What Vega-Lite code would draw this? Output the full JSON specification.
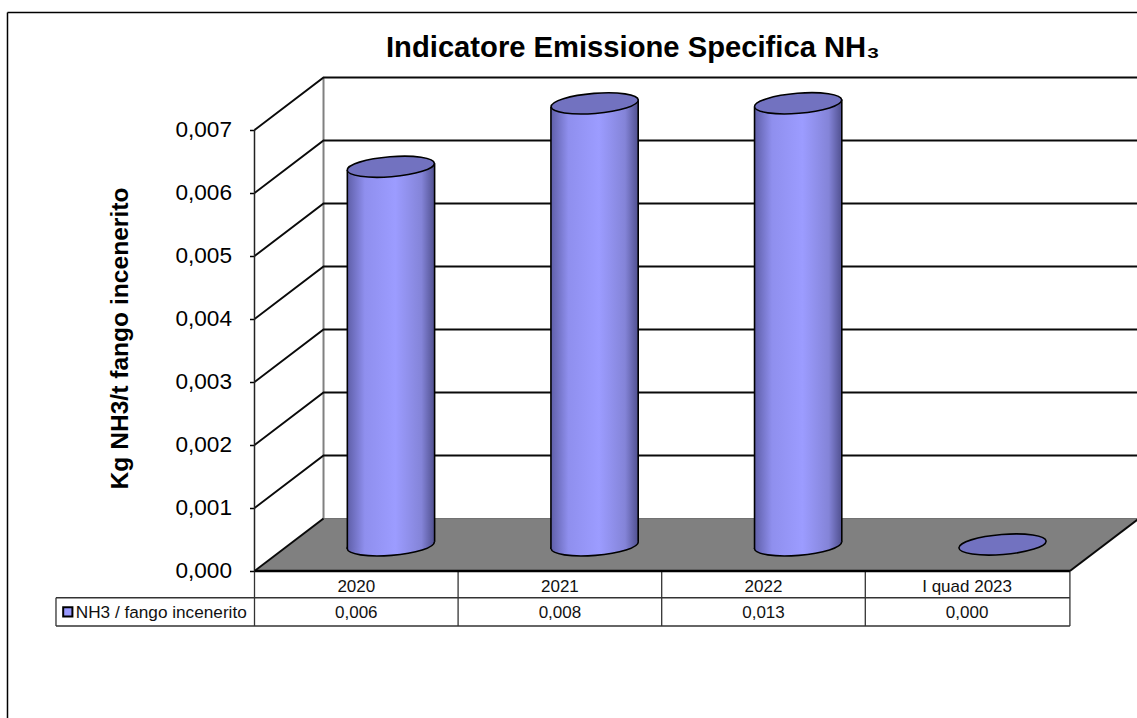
{
"$schema":"https://vega.github.io/schema/vega-lite/v6.json",
"width":1137,"height":718,"padding":0,"autosize":{"type":"none"},"background":"white",
"config":{"view":{"stroke":null},"font":"Liberation Sans"},
"title":{"text":"Indicatore Emissione Specifica NH₃","orient":"top","anchor":"start","frame":"group","dx":386,"offset":-57,"dy":29,"baseline":"alphabetic","font":"Liberation Sans","fontSize":29.2,"fontWeight":"bold","color":"#000000"},
"encoding":{
"x":{"field":"x","type":"quantitative","scale":{"domain":[-1.25,4.3345],"nice":false,"zero":false},"axis":null},
"y":{"field":"y","type":"quantitative","scale":{"domain":[-0.002333,0.0090635],"nice":false,"zero":false},
"axis":{"values":[0,0.001,0.002,0.003,0.004,0.005,0.006,0.007],"offset":-254.5,"domain":false,"grid":false,"tickSize":5,"tickColor":"#000000","tickWidth":1.5,"labelPadding":18,"labelOffset":-1,"labelFontSize":22.6,"labelColor":"#000000","labelFont":"Liberation Sans","labelExpr":"replace(format(datum.value,'.3f'),'.',',')","title":"Kg NH3/t fango incenerito","titleFont":"Liberation Sans","titleFontSize":24.6,"titleFontWeight":"bold","titleColor":"#000000","titleAnchor":"middle","titleX":-122,"titleY":338,"titleAngle":-90,"titleBaseline":"bottom"}}
},
"layer":[
{"data":{"values":[{"x":0,"y":0,"y2":0},{"x":0.339,"y":0.000833,"y2":0},{"x":4.005,"y":0.000833,"y2":0},{"x":4.344,"y":0.000833,"y2":0.000833}]},
"mark":{"type":"area","orient":"vertical","fill":"#808080","clip":true},"encoding":{"y2":{"field":"y2"}}},
{"data":{"values":[{"x":0.339,"y":0.000833},{"x":0.339,"y":0.007833}]},"mark":{"type":"line","stroke":"#808080","strokeWidth":2},"encoding":{}},
{"data":{"values":[{"x":0.339,"y":0.000833},{"x":4.344,"y":0.000833}]},"mark":{"type":"line","stroke":"#707070","strokeWidth":1,"clip":true},"encoding":{}},
{"data":{"values":[
{"id":1,"x":0,"y":0.001},{"id":1,"x":0.339,"y":0.001833},{"id":1,"x":4.344,"y":0.001833},
{"id":2,"x":0,"y":0.002},{"id":2,"x":0.339,"y":0.002833},{"id":2,"x":4.344,"y":0.002833},
{"id":3,"x":0,"y":0.003},{"id":3,"x":0.339,"y":0.003833},{"id":3,"x":4.344,"y":0.003833},
{"id":4,"x":0,"y":0.004},{"id":4,"x":0.339,"y":0.004833},{"id":4,"x":4.344,"y":0.004833},
{"id":5,"x":0,"y":0.005},{"id":5,"x":0.339,"y":0.005833},{"id":5,"x":4.344,"y":0.005833},
{"id":6,"x":0,"y":0.006},{"id":6,"x":0.339,"y":0.006833},{"id":6,"x":4.344,"y":0.006833},
{"id":7,"x":0,"y":0.007},{"id":7,"x":0.339,"y":0.007833},{"id":7,"x":4.344,"y":0.007833},
{"id":8,"x":0,"y":0},{"id":8,"x":0.339,"y":0.000833},
{"id":9,"x":4.005,"y":0},{"id":9,"x":4.344,"y":0.000833}
]},"mark":{"type":"line","stroke":"#0a0a0a","strokeWidth":2,"clip":true},"encoding":{"detail":{"field":"id"}}},
{"data":{"values":[{"x":0,"y":0},{"x":0,"y":0.007}]},"mark":{"type":"line","stroke":"#222222","strokeWidth":1.5},"encoding":{}},
{"data":{"name":"basi","values":[{"categoria":"2020","x":0.6695,"y":0.000408},{"categoria":"2021","x":1.671,"y":0.000408},{"categoria":"2022","x":2.67,"y":0.000408}]},
"mark":{"type":"point","filled":true,"shape":"M -0.997,0.08 A 1 0.23 -4.6 1 1 0.997,-0.08 A 1 0.23 -4.6 1 1 -0.997,0.08 Z","size":7640,"opacity":1,"fill":{"gradient":"linear","x1":0,"y1":0,"x2":1,"y2":0,"stops":[{"offset":0,"color":"#5f5fa8"},{"offset":0.2,"color":"#8f8fee"},{"offset":0.55,"color":"#9c9cff"},{"offset":0.85,"color":"#8484d8"},{"offset":1,"color":"#50508f"}]},"stroke":"#000000","strokeWidth":1.6}},
{"data":{"name":"corpi","values":[
{"categoria":"2020","x":0.456,"y":0.006365,"y2":0.000349},{"categoria":"2020","x":0.8846,"y":0.006471,"y2":0.000465},
{"categoria":"2021","x":1.456,"y":0.00737,"y2":0.000349},{"categoria":"2021","x":1.8846,"y":0.007476,"y2":0.000465},
{"categoria":"2022","x":2.456,"y":0.007365,"y2":0.000349},{"categoria":"2022","x":2.8846,"y":0.007484,"y2":0.000465}
]},
"mark":{"type":"area","orient":"vertical","fill":{"gradient":"linear","x1":0,"y1":0,"x2":1,"y2":0,"stops":[{"offset":0,"color":"#5f5fa8"},{"offset":0.2,"color":"#8f8fee"},{"offset":0.55,"color":"#9c9cff"},{"offset":0.85,"color":"#8484d8"},{"offset":1,"color":"#50508f"}]}},
"encoding":{"detail":{"field":"categoria"},"y2":{"field":"y2"}}},
{"data":{"name":"corpi2","values":[
{"x":0.456,"y":0.006365,"y2":0.000349},{"x":0.8846,"y":0.006471,"y2":0.000465},
{"x":1.456,"y":0.00737,"y2":0.000349},{"x":1.8846,"y":0.007476,"y2":0.000465},
{"x":2.456,"y":0.007365,"y2":0.000349},{"x":2.8846,"y":0.007484,"y2":0.000465}
]},"mark":{"type":"rule","stroke":"#000000","strokeWidth":1.6},"encoding":{"y2":{"field":"y2"}}},
{"data":{"name":"cime","values":[{"categoria":"2020","x":0.6695,"y":0.006417},{"categoria":"2021","x":1.671,"y":0.007422},{"categoria":"2022","x":2.67,"y":0.007424},{"categoria":"I quad 2023","x":3.674,"y":0.000421}]},
"mark":{"type":"point","filled":true,"shape":"M -0.997,0.08 A 1 0.23 -4.6 1 1 0.997,-0.08 A 1 0.23 -4.6 1 1 -0.997,0.08 Z","size":7640,"opacity":1,"fill":"#7272c0","stroke":"#000000","strokeWidth":1.6}},
{"data":{"values":[{"x":-0.975,"y":-0.000424,"x2":4.005},{"x":-0.975,"y":-0.000873,"x2":4.005}]},"mark":{"type":"rule","stroke":"#333333","strokeWidth":1.3},"encoding":{"x2":{"field":"x2"}}},
{"data":{"values":[{"x":-0.975,"y":-0.000424,"y2":-0.000873},{"x":0,"y":0,"y2":-0.000873},{"x":1,"y":0,"y2":-0.000873},{"x":2,"y":0,"y2":-0.000873},{"x":3,"y":0,"y2":-0.000873},{"x":4.005,"y":0,"y2":-0.000873}]},"mark":{"type":"rule","stroke":"#333333","strokeWidth":1.3},"encoding":{"y2":{"field":"y2"}}},
{"data":{"values":[{"x":0,"y":0,"x2":4.005}]},"mark":{"type":"rule","stroke":"#000000","strokeWidth":2.4},"encoding":{"x2":{"field":"x2"}}},
{"data":{"values":[{"x":-1.2132,"y":0.008865,"x2":4.3345}]},"mark":{"type":"rule","stroke":"#000000","strokeWidth":1.5},"encoding":{"x2":{"field":"x2"}}},
{"data":{"values":[{"x":-1.2132,"y":0.008865,"y2":-0.002333}]},"mark":{"type":"rule","stroke":"#000000","strokeWidth":1.5},"encoding":{"y2":{"field":"y2"}}},
{"data":{"values":[
{"x":0.5,"y":-0.000246,"testo":"2020"},{"x":1.5,"y":-0.000246,"testo":"2021"},{"x":2.5,"y":-0.000246,"testo":"2022"},{"x":3.5,"y":-0.000246,"testo":"I quad 2023"},
{"x":0.5,"y":-0.000667,"testo":"0,006"},{"x":1.5,"y":-0.000667,"testo":"0,008"},{"x":2.5,"y":-0.000667,"testo":"0,013"},{"x":3.5,"y":-0.000667,"testo":"0,000"}
]},"mark":{"type":"text","font":"Liberation Sans","fontSize":17,"fill":"#111111","align":"center","baseline":"middle"},"encoding":{"text":{"field":"testo"}}},
{"data":{"values":[{"x":-0.878,"y":-0.000667,"testo":"NH3 / fango incenerito"}]},"mark":{"type":"text","font":"Liberation Sans","fontSize":17.2,"fill":"#111111","align":"left","baseline":"middle"},"encoding":{"text":{"field":"testo"}}},
{"data":{"values":[{"x":-0.917,"y":-0.00065}]},"mark":{"type":"point","shape":"square","filled":true,"size":85,"opacity":1,"fill":"#9999ff","stroke":"#000000","strokeWidth":2}}
]
}
